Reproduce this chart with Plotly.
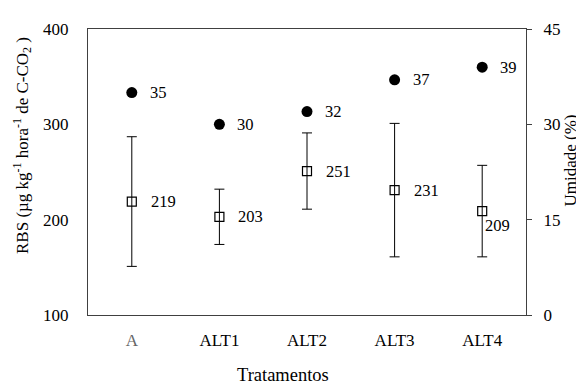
import plotly.graph_objects as go

categories = ["A", "ALT1", "ALT2", "ALT3", "ALT4"]
tick_labels = ['<span style="color:#666666">A</span>', "ALT1", "ALT2", "ALT3", "ALT4"]
rbs = [219, 203, 251, 231, 209]
rbs_err = [68, 29, 40, 70, 48]
umidade = [35, 30, 32, 37, 39]

FONT = "Liberation Serif, Times New Roman, serif"
fig = go.Figure()

fig.add_trace(go.Scatter(
    x=categories, y=umidade, yaxis="y2", mode="markers",
    marker=dict(symbol="circle", size=11, color="black"),
    showlegend=False, cliponaxis=False))

fig.add_trace(go.Scatter(
    x=categories, y=rbs, mode="markers",
    marker=dict(symbol="square-open", size=9, color="black", line=dict(width=1.2)),
    error_y=dict(type="data", array=rbs_err, visible=True, color="black", thickness=1, width=5),
    showlegend=False, cliponaxis=False))

LBL = 16.5
ann = []
for c, v in zip(categories, umidade):
    ann.append(dict(x=c, y=v, xref="x", yref="y2", text=str(v), showarrow=False,
                    xanchor="left", yanchor="middle", xshift=16,
                    font=dict(family=FONT, size=LBL, color="black")))
for i, (c, v) in enumerate(zip(categories, rbs)):
    if i == len(categories) - 1:
        ann.append(dict(x=c, y=v, xref="x", yref="y", text=str(v), showarrow=False,
                        xanchor="left", yanchor="middle", xshift=1, yshift=-14,
                        font=dict(family=FONT, size=LBL, color="black")))
    else:
        ann.append(dict(x=c, y=v, xref="x", yref="y", text=str(v), showarrow=False,
                        xanchor="left", yanchor="middle", xshift=17,
                        font=dict(family=FONT, size=LBL, color="black")))

ann.append(dict(x=0.445, y=-0.21, xref="paper", yref="paper", text="Tratamentos",
                showarrow=False, xanchor="center", yanchor="middle",
                font=dict(family=FONT, size=18.5, color="black")))
ann.append(dict(x=-0.151, y=0.594, xref="paper", yref="paper",
                text="RBS (µg kg<sup>-1</sup> hora<sup>-1</sup> de C-CO<sub>2</sub> )",
                textangle=-90, showarrow=False, xanchor="center", yanchor="middle",
                font=dict(family=FONT, size=17, color="black")))
ann.append(dict(x=1.102, y=0.539, xref="paper", yref="paper", text="Umidade (%)",
                textangle=-90, showarrow=False, xanchor="center", yanchor="middle",
                font=dict(family=FONT, size=17, color="black")))

fig.update_layout(
    width=576, height=377,
    margin=dict(l=80, r=58, t=14, b=70),
    paper_bgcolor="white", plot_bgcolor="white",
    font=dict(family=FONT, size=17, color="black"),
    annotations=ann,
    xaxis=dict(type="category", range=[-0.5, 4.5], tickmode="array",
               tickvals=categories, ticktext=tick_labels,
               showline=True, linecolor="#404040", linewidth=1.3, mirror=True,
               ticks="", showgrid=False, zeroline=False, ticklabelstandoff=9,
               tickfont=dict(family=FONT, size=17, color="black")),
    yaxis=dict(range=[100, 400], tickvals=[100, 200, 300, 400],
               showline=True, linecolor="#404040", linewidth=1.3, mirror=False,
               ticks="", showgrid=False, zeroline=False, ticklabelstandoff=15,
               tickfont=dict(family=FONT, size=17, color="black")),
    yaxis2=dict(range=[0, 45], tickvals=[0, 15, 30, 45], overlaying="y", side="right",
                showline=True, linecolor="#404040", linewidth=1.3,
                ticks="outside", ticklen=5, tickcolor="#404040", showgrid=False,
                zeroline=False, ticklabelstandoff=8,
                tickfont=dict(family=FONT, size=17, color="black")),
)

fig.write_html("out.html")
